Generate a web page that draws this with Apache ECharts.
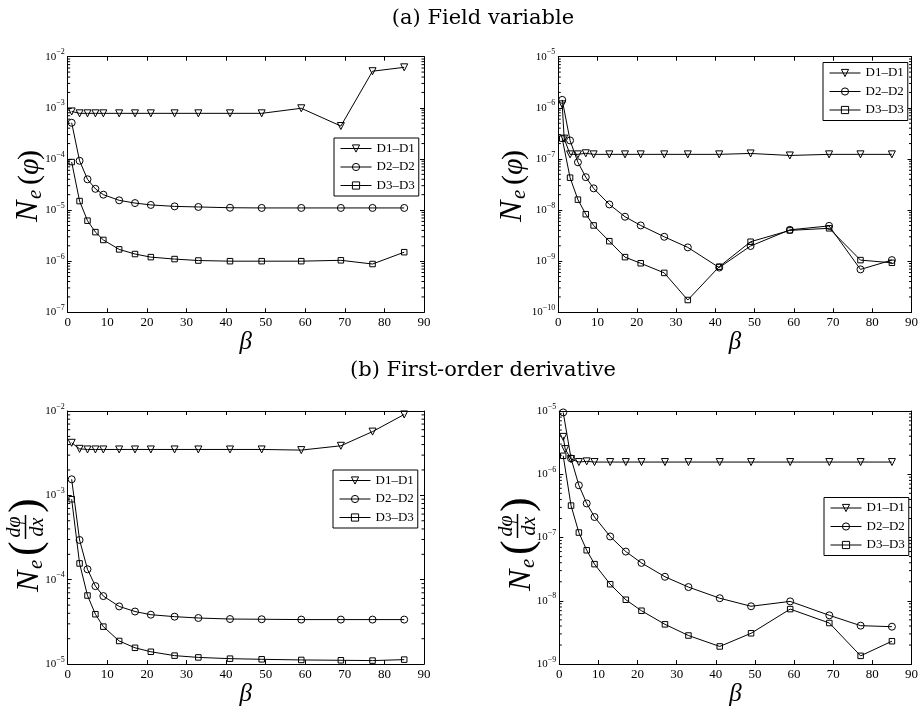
<!DOCTYPE html>
<html><head><meta charset="utf-8">
<script src="https://cdn.jsdelivr.net/npm/echarts@6/dist/echarts.min.js"></script>
<style>html,body{margin:0;padding:0;background:#fff}#c{width:921px;height:708px}</style>
</head><body><div id="c"></div>
<script>
// ---------------- data ----------------
const BETA = [1,3,5,7,9,13,17,21,27,33,41,49,59,69,77,85];
const BETA_D1_RIGHT = [1,1.5,3,5,7,9,13,17,21,27,33,41,49,59,69,77,85];
const SERIES_NAMES = ['D1–D1','D2–D2','D3–D3'];
const MINOR_STEPS = [2,3,4,5,6,7,8,9];

// (a) field variable, left
const fieldL_D1 = [8.5e-4,7.8e-4,7.8e-4,7.8e-4,7.8e-4,7.8e-4,7.8e-4,7.8e-4,7.8e-4,7.8e-4,7.8e-4,7.8e-4,9.8e-4,4.4e-4,5.2e-3,6.2e-3];
const fieldL_D2 = [5.1e-4,9.2e-5,4.0e-5,2.6e-5,2.0e-5,1.55e-5,1.37e-5,1.26e-5,1.18e-5,1.15e-5,1.11e-5,1.1e-5,1.1e-5,1.1e-5,1.1e-5,1.1e-5];
const fieldL_D3 = [8.7e-5,1.5e-5,6.2e-6,3.7e-6,2.6e-6,1.7e-6,1.38e-6,1.2e-6,1.1e-6,1.03e-6,1.0e-6,1.0e-6,1.0e-6,1.04e-6,8.8e-7,1.5e-6];
// (a) field variable, right
const fieldR_D1 = [1.17e-6,2.5e-7,1.23e-7,1.23e-7,1.29e-7,1.23e-7,1.23e-7,1.23e-7,1.23e-7,1.23e-7,1.23e-7,1.23e-7,1.28e-7,1.17e-7,1.23e-7,1.23e-7,1.23e-7];
const fieldR_D2 = [1.43e-6,2.3e-7,8.6e-8,4.4e-8,2.66e-8,1.29e-8,7.4e-9,5.0e-9,3.0e-9,1.86e-9,7.5e-10,1.98e-9,4.1e-9,4.9e-9,6.9e-10,1.05e-9];
const fieldR_D3 = [2.5e-7,4.3e-8,1.6e-8,8.3e-9,5.0e-9,2.46e-9,1.2e-9,9.1e-10,5.9e-10,1.74e-10,7.8e-10,2.4e-9,4.0e-9,4.4e-9,1.05e-9,9.3e-10];
// (b) first-order derivative, left
const derivL_D1 = [4.2e-3,3.56e-3,3.5e-3,3.5e-3,3.5e-3,3.5e-3,3.5e-3,3.5e-3,3.5e-3,3.5e-3,3.5e-3,3.5e-3,3.44e-3,3.87e-3,5.7e-3,9.1e-3];
const derivL_D2 = [1.55e-3,2.96e-4,1.33e-4,8.4e-5,6.4e-5,4.83e-5,4.2e-5,3.85e-5,3.65e-5,3.52e-5,3.42e-5,3.4e-5,3.37e-5,3.37e-5,3.37e-5,3.37e-5];
const derivL_D3 = [9.0e-4,1.56e-4,6.5e-5,3.9e-5,2.78e-5,1.88e-5,1.56e-5,1.4e-5,1.26e-5,1.2e-5,1.16e-5,1.14e-5,1.12e-5,1.11e-5,1.1e-5,1.13e-5];
// (b) first-order derivative, right
const derivR_D1 = [3.9e-6,2.5e-6,1.74e-6,1.56e-6,1.6e-6,1.56e-6,1.56e-6,1.56e-6,1.56e-6,1.56e-6,1.56e-6,1.56e-6,1.56e-6,1.56e-6,1.56e-6,1.56e-6,1.56e-6];
const derivR_D2 = [9.5e-6,1.78e-6,6.7e-7,3.46e-7,2.11e-7,1.04e-7,6.0e-8,3.97e-8,2.4e-8,1.65e-8,1.1e-8,8.2e-9,9.8e-9,5.9e-9,4.05e-9,3.9e-9];
const derivR_D3 = [1.96e-6,3.2e-7,1.2e-7,6.3e-8,3.8e-8,1.83e-8,1.04e-8,6.97e-9,4.25e-9,2.83e-9,1.9e-9,3.07e-9,7.4e-9,4.46e-9,1.35e-9,2.3e-9];

// axis limits
const X_RANGE = [0, 90];
const Y_RANGE_FIELD_L = [1e-7, 1e-2];
const Y_RANGE_FIELD_R = [1e-10, 1e-5];
const Y_RANGE_DERIV_L = [1e-5, 1e-2];
const Y_RANGE_DERIV_R = [1e-9, 1e-5];

// ---------------- layout ----------------
const SERIF = 'Liberation Serif';
const panels = [
  {grid:{left:67.7, top:56.7, width:356.3, height:255.6}, y:Y_RANGE_FIELD_L,
   d1x:BETA, d:[fieldL_D1, fieldL_D2, fieldL_D3], legend:{left:334, top:138}},
  {grid:{left:558.3, top:56.7, width:355, height:255.6}, y:Y_RANGE_FIELD_R,
   d1x:BETA_D1_RIGHT, d:[fieldR_D1, fieldR_D2, fieldR_D3], legend:{left:823, top:62.5}},
  {grid:{left:67.7, top:411, width:356.3, height:254.7}, y:Y_RANGE_DERIV_L,
   d1x:BETA, d:[derivL_D1, derivL_D2, derivL_D3], legend:{left:333, top:470}},
  {grid:{left:559.3, top:411, width:354.7, height:254.7}, y:Y_RANGE_DERIV_R,
   d1x:BETA_D1_RIGHT, d:[derivR_D1, derivR_D2, derivR_D3], legend:{left:824, top:497.5}}
];

const symbols = [
  {symbol:'triangle', symbolRotate:180, symbolSize:7},
  {symbol:'circle', symbolRotate:0, symbolSize:7},
  {symbol:'rect', symbolRotate:0, symbolSize:5.5}
];

const option = {animation:false, backgroundColor:'#fff', grid:[], xAxis:[], yAxis:[], series:[], legend:[], graphic:[]};

function yFmt(v){
  const e = Math.round(Math.log10(v));
  return '{b|10}{s|' + (e < 0 ? '\u2212' : '') + Math.abs(e) + '}';
}

panels.forEach((p, i) => {
  option.grid.push(Object.assign({}, p.grid));
  const xc = {type:'value', gridIndex:i, min:X_RANGE[0], max:X_RANGE[1], interval:10,
    splitLine:{show:false},
    axisLine:{onZero:false, lineStyle:{color:'#000', width:1}},
    axisTick:{inside:true, length:4, lineStyle:{color:'#000', width:1}}};
  option.xAxis.push(Object.assign({}, xc, {position:'bottom',
    axisLabel:{color:'#000', fontFamily:SERIF, fontSize:13, margin:4},
    name:'β', nameLocation:'middle', nameGap:14,
    nameTextStyle:{color:'#000', fontFamily:SERIF, fontStyle:'italic', fontSize:25}}));
  option.xAxis.push(Object.assign({}, xc, {position:'top', axisLabel:{show:false}}));
  const yc = {type:'log', logBase:10, gridIndex:i, min:p.y[0], max:p.y[1],
    splitLine:{show:false},
    axisLine:{show:true, onZero:false, lineStyle:{color:'#000', width:1}},
    axisTick:{show:true, inside:true, length:4, lineStyle:{color:'#000', width:1}}};
  option.yAxis.push(Object.assign({}, yc, {position:'left',
    axisLabel:{margin:3, formatter:yFmt, align:'right',
      rich:{b:{fontFamily:SERIF, fontSize:11, color:'#000'},
            s:{fontFamily:SERIF, fontSize:8, color:'#000', verticalAlign:'top', padding:[0,0,9,0]}}}}));
  option.yAxis.push(Object.assign({}, yc, {position:'right', axisLabel:{show:false}}));

  p.d.forEach((vals, k) => {
    const xs = k === 0 ? p.d1x : BETA;
    option.series.push(Object.assign({
      type:'line', name:SERIES_NAMES[k], xAxisIndex:2*i, yAxisIndex:2*i,
      data: vals.map((v, j) => [xs[j], v]),
      showAllSymbol:true, silent:true,
      lineStyle:{color:'#000', width:1},
      itemStyle:{color:'rgba(255,255,255,0)', borderColor:'#000', borderWidth:1},
      emphasis:{disabled:true}
    }, symbols[k]));
  });

  // log minor ticks on left and right frame edges
  const e0 = Math.round(Math.log10(p.y[0])), e1 = Math.round(Math.log10(p.y[1]));
  const minor = [];
  for (let e = e0; e < e1; e++) MINOR_STEPS.forEach(m => minor.push([X_RANGE[0], m * Math.pow(10, e)]));
  option.series.push({
    type:'custom', xAxisIndex:2*i, yAxisIndex:2*i, silent:true, clip:false, z:5,
    data:minor,
    renderItem:(params, api) => {
      const y = api.value(1);
      const l = api.coord([X_RANGE[0], y]);
      const r = api.coord([X_RANGE[1], y]);
      return {type:'group', children:[
        {type:'line', shape:{x1:l[0], y1:l[1], x2:l[0]+2.5, y2:l[1]}, style:{stroke:'#000', lineWidth:1}},
        {type:'line', shape:{x1:r[0], y1:r[1], x2:r[0]-2.5, y2:r[1]}, style:{stroke:'#000', lineWidth:1}}
      ]};
    }
  });

  option.legend.push({
    left:p.legend.left, top:p.legend.top, orient:'vertical', selectedMode:false,
    data:SERIES_NAMES, itemWidth:31, itemHeight:9, itemGap:5.5,
    padding:[4,4,4,6], borderColor:'#000', borderWidth:1, backgroundColor:'#fff',
    lineStyle:{width:1, color:'#000'},
    itemStyle:{borderWidth:1, borderColor:'#000', color:'rgba(255,255,255,0)'},
    textStyle:{color:'#000', fontFamily:SERIF, fontSize:13}
  });
});

// ---------------- titles & y-axis labels ----------------
function txt(x, y, text, size, italic, align, extra){
  return Object.assign({type:'text', x:x, y:y, silent:true, style:{text:text, fill:'#000',
    fontFamily: SERIF, fontSize:size, fontStyle: italic ? 'italic' : 'normal',
    align: align || 'left', verticalAlign:'middle', textAlign: align || 'left', textVerticalAlign:'middle'}}, extra || {});
}
option.graphic.push(txt(483, 19, '(a) Field variable', 21, false, 'center', {style:{text:'(a) Field variable', fill:'#000', fontFamily:'DejaVu Serif', fontSize:21, align:'center', verticalAlign:'middle'}}));
option.graphic.push(txt(483, 371, '(b) First-order derivative', 21, false, 'center', {style:{text:'(b) First-order derivative', fill:'#000', fontFamily:'DejaVu Serif', fontSize:21, align:'center', verticalAlign:'middle'}}));

function labelPhi(cx, cy){
  return {type:'group', x:cx, y:cy, rotation:Math.PI/2, silent:true, children:[
    txt(-36, 0, 'N', 32, true),
    txt(-13, 6, 'e', 21, true),
    txt(1, 1, '(', 30, false),
    txt(11, 1, 'φ', 30, true),
    txt(26, 1, ')', 30, false)
  ]};
}
function labelDeriv(cx, cy){
  return {type:'group', x:cx, y:cy, rotation:Math.PI/2, silent:true, children:[
    txt(-49, 0, 'N', 32, true),
    txt(-26, 6, 'e', 21, true),
    txt(-13, -3, '(', 44, false),
    txt(16, -15, 'dφ', 20, true, 'center'),
    {type:'line', shape:{x1:4, y1:-4.5, x2:28, y2:-4.5}, style:{stroke:'#000', lineWidth:1.5}},
    txt(16, 8, 'dx', 20, true, 'center'),
    txt(30, -3, ')', 44, false)
  ]};
}
option.graphic.push(labelPhi(29, 186));
option.graphic.push(labelPhi(513, 186));
option.graphic.push(labelDeriv(30, 543));
option.graphic.push(labelDeriv(522, 542));

const chart = echarts.init(document.getElementById('c'), null, {renderer:'canvas'});
chart.setOption(option);
</script>
</body></html>
